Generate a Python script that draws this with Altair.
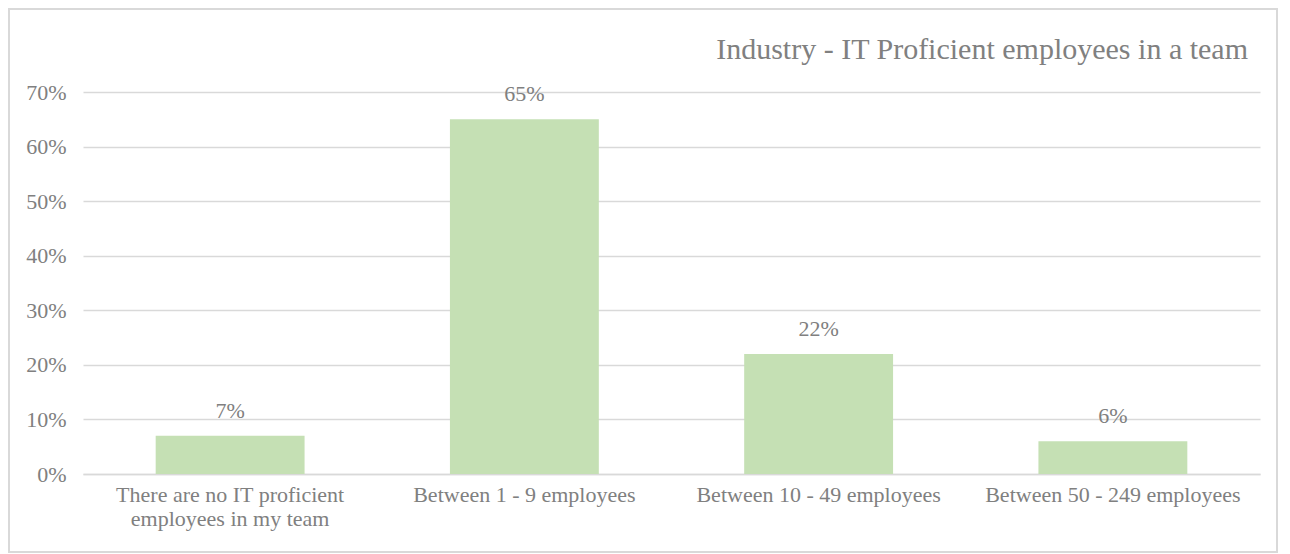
import altair as alt
import pandas as pd

categories = [
    "There are no IT proficient employees in my team",
    "Between 1 - 9 employees",
    "Between 10 - 49 employees",
    "Between 50 - 249 employees",
]
values = [0.07, 0.65, 0.22, 0.06]
y_ticks = [0, 0.1, 0.2, 0.3, 0.4, 0.5, 0.6, 0.7]
title_text = "Industry - IT Proficient employees in a team"

df = pd.DataFrame({"category": categories, "value": values})

FONT = "Liberation Serif"
GRAY = "#808080"

x_enc = alt.X(
    "category:N",
    sort=categories,
    scale=alt.Scale(paddingInner=0.494, paddingOuter=0.247),
    axis=alt.Axis(
        title=None,
        labelAngle=0,
        labelFont=FONT,
        labelFontSize=22,
        labelColor=GRAY,
        labelPadding=10,
        labelLineHeight=24,
        labelLimit=0,
        ticks=False,
        domain=True,
        domainColor="#d9d9d9",
        domainWidth=1.5,
        labelExpr="datum.label == 'There are no IT proficient employees in my team' ? ['There are no IT proficient', 'employees in my team'] : datum.label",
    ),
)
y_enc = alt.Y(
    "value:Q",
    scale=alt.Scale(domain=[0, 0.7], nice=False),
    axis=alt.Axis(
        title=None,
        values=y_ticks,
        format=".0%",
        labelFont=FONT,
        labelFontSize=22,
        labelColor=GRAY,
        labelPadding=17,
        ticks=False,
        domain=False,
        gridColor="#d9d9d9",
        gridWidth=1.5,
    ),
)

bars = alt.Chart(df).mark_bar(color="#c5e0b4").encode(x=x_enc, y=y_enc)

labels = alt.Chart(df).mark_text(
    font=FONT, fontSize=22, color=GRAY, baseline="bottom", dy=-13
).encode(
    x=alt.X("category:N", sort=categories),
    y="value:Q",
    text=alt.Text("value:Q", format=".0%"),
)

border = alt.Chart(pd.DataFrame({"a": [0]})).mark_rect(
    fill=None, stroke="#d9d9d9", strokeWidth=2
).encode(
    x=alt.value(-74), x2=alt.value(1194), y=alt.value(-83), y2=alt.value(460)
)

title = alt.Chart(pd.DataFrame({"t": [title_text]})).mark_text(
    font=FONT, fontSize=30, color=GRAY, align="right", baseline="alphabetic"
).encode(
    text="t:N", x=alt.value(1165), y=alt.value(-33)
)

chart = alt.layer(border, bars, labels, title).properties(
    width=1177,
    height=382,
    autosize=alt.AutoSizeParams(type="none"),
    padding={"left": 75, "top": 84, "right": 20, "bottom": 80},
).configure_view(stroke=None)

chart.save("out.html", embed_options={"renderer": "svg", "actions": False})
